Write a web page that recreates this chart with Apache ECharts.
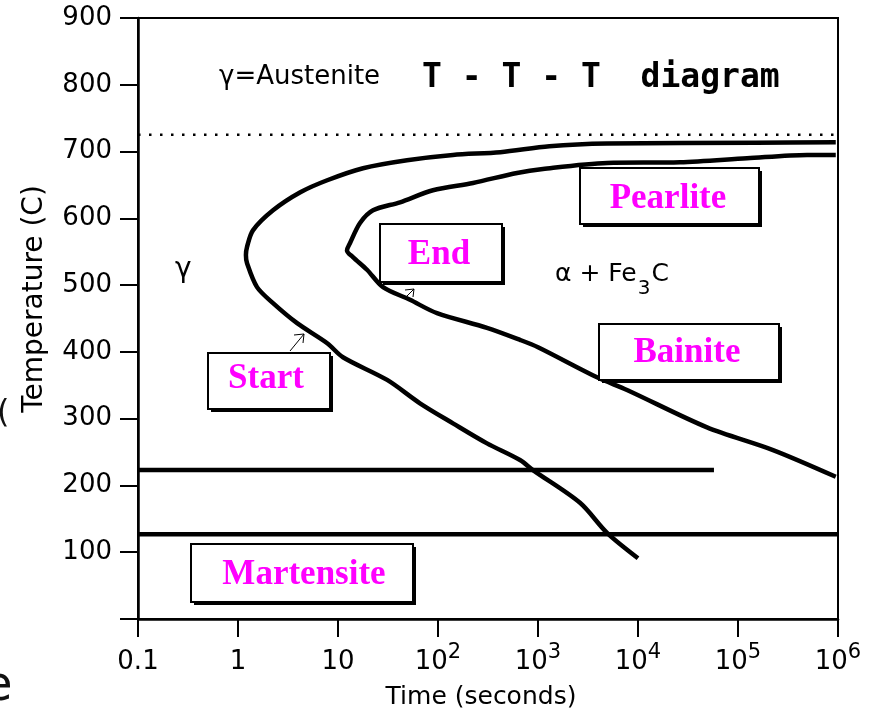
<!DOCTYPE html>
<html><head><meta charset="utf-8">
<script src="https://cdn.jsdelivr.net/npm/echarts@6.0.0/dist/echarts.min.js"></script>
<style>html,body{margin:0;padding:0;background:#fff}#c{width:879px;height:713px}</style>
</head><body><div id="c"></div>
<script>
// ---- data (time in seconds, temperature in C) ----
const startCurve = [[9.5e5,714],[1.5e5,713],[4.9e3,712],[1.3e3,708],[420,699],[141,695],[49,687],[17.8,675],[7.8,657],[4.2,639],[2.24,612],[1.41,582],[1.23,557],[1.2,545],[1.23,533],[1.55,497],[2.24,473],[3.9,443],[7.8,413],[11.2,392],[31,358],[66,323],[141,293],[309,263],[660,238],[890,223],[2630,174],[4900,129],[1e4,91]];
const endCurve = [[9.5e5,695],[4.9e5,695],[1.23e5,690],[2.63e4,684],[4.9e3,683],[1.12e3,674],[617,668],[224,653],[89,642],[41.7,624],[22.4,612],[16.6,593],[13.2,563],[12.3,552],[14.1,542],[19.5,523],[28.2,497],[52.5,478],[97.7,458],[309,436],[661,418],[1000,407],[3890,362],[7760,343],[4.9e4,287],[2.24e5,253],[9.5e5,213]];
const eutectoidLine = [[0.1,725],[1e6,725]];
const msLine = [[0.1,223],[5.75e4,223]];
const mfLine = [[0.1,127],[1e6,127]];
const xTickBase = ['0.1','1','10','10','10','10','10','10'];
const xTickSup = ['','','','2','3','4','5','6'];
const phaseLabels = ['Start','End','Pearlite','Bainite','Martensite'];

const chart = echarts.init(document.getElementById('c'), null, {renderer:'canvas'});
const SANS = "'DejaVu Sans', sans-serif";
const SERIF = "'Liberation Serif', 'DejaVu Serif', serif";
const measureCtx = document.createElement('canvas').getContext('2d');
function textWidth(s, font){ measureCtx.font = font; return measureCtx.measureText(s).width; }

function lineSeries(data, width, type, smooth) {
  return {type:'line', data:data, symbol:'none', smooth:smooth||false, silent:true,
    lineStyle:{color:'#000', width:width, type:type||'solid', join:'round', cap:'butt'}, z:3};
}
function txt(x,y,text,font,extra){
  return {type:'text', x:x, y:y, z:50,
    style:Object.assign({text:text, fill:'#000', font:font, align:'left', verticalAlign:'middle',
      textAlign:'left', textVerticalAlign:'middle'}, extra||{})};
}
function box(x,y,w,h,label,tx,ty){
  return [
    {type:'rect', z:60, shape:{x:x+3,y:y+3,width:w,height:h}, style:{fill:'#000'}},
    {type:'rect', z:61, shape:{x:x,y:y,width:w,height:h}, style:{fill:'#fff', stroke:'#000', lineWidth:2}},
    {type:'text', z:62, x:tx, y:ty, style:{text:label, fill:'#ff00ff', font:'bold 35px '+SERIF,
      align:'center', verticalAlign:'middle', textAlign:'center', textVerticalAlign:'middle'}}
  ];
}
function arrow(x1,y1,x2,y2,h1,h2){
  return [
    {type:'line', z:55, shape:{x1:x1,y1:y1,x2:x2,y2:y2}, style:{stroke:'#000', lineWidth:1}},
    {type:'line', z:55, shape:{x1:x2,y1:y2,x2:h1[0],y2:h1[1]}, style:{stroke:'#000', lineWidth:1}},
    {type:'line', z:55, shape:{x1:x2,y1:y2,x2:h2[0],y2:h2[1]}, style:{stroke:'#000', lineWidth:1}}
  ];
}

const phaseFont = '25px ' + SANS;
const subFont = '20px ' + SANS;
const p1 = 'α + Fe', p2 = '3', p3 = 'C';
const p1x = 555, p2x = p1x + textWidth(p1, phaseFont) + 1, p3x = p2x + textWidth(p2, subFont) + 1;

const graphics = [].concat(
  box(208,353,122,56,phaseLabels[0],266,379),
  box(380,224,122,58,phaseLabels[1],439,255),
  box(580,168,179,56,phaseLabels[2],668,199),
  box(599,324,180,56,phaseLabels[3],687,353),
  box(191,544,222,58,phaseLabels[4],304,575),
  arrow(290,351,304,334,[294,335],[303,343]),
  arrow(404,299,414,289,[405,290],[413,297]),
  [
    txt(219,77,'γ=Austenite','26px '+SANS),
    txt(422,78,'T - T - T  diagram','bold 33px '+"'DejaVu Sans Mono', monospace"),
    txt(175,270,'γ','28px '+SANS),
    txt(p1x,274,p1,phaseFont),
    txt(p2x,289,p2,subFont),
    txt(p3x,274,p3,phaseFont),
    {type:'text', z:50, x:35, y:299, rotation:Math.PI/2, style:{text:'Temperature (C)', fill:'#000',
      font:'28px '+SANS, align:'center', verticalAlign:'middle', textAlign:'center', textVerticalAlign:'middle'}},
    {type:'text', z:50, x:481, y:697, style:{text:'Time (seconds)', fill:'#000',
      font:'25px '+SANS, align:'center', verticalAlign:'middle', textAlign:'center', textVerticalAlign:'middle'}},
    {type:'text', z:50, x:-3, y:414, style:{text:'(', fill:'#111', font:'32px '+SANS,
      align:'left', verticalAlign:'middle', textAlign:'left', textVerticalAlign:'middle'}},
    {type:'text', z:50, x:-17, y:688, style:{text:'e', fill:'#111', font:'48px '+SANS,
      align:'left', verticalAlign:'middle', textAlign:'left', textVerticalAlign:'middle'}}
  ]
);

chart.setOption({
  animation:false,
  backgroundColor:'#fff',
  grid:{left:138, top:18, right:41, bottom:94, show:true, borderColor:'#000', borderWidth:2, backgroundColor:'transparent'},
  xAxis:{type:'log', logBase:10, min:0.1, max:1e6,
    axisLine:{show:true, onZero:false, lineStyle:{color:'#000', width:2.5}},
    axisTick:{show:true, inside:false, length:18, lineStyle:{color:'#000', width:2}},
    splitLine:{show:false}, minorTick:{show:false},
    axisLabel:{margin:23, color:'#000',
      formatter:function(v){
        const i = Math.round(Math.log10(v)) + 1;
        if (i < 0 || i >= xTickBase.length) return '';
        return xTickSup[i] ? '{n|'+xTickBase[i]+'}{p|'+xTickSup[i]+'}' : '{n|'+xTickBase[i]+'}';
      },
      rich:{n:{fontSize:26, fontFamily:SANS, color:'#000', lineHeight:40, verticalAlign:'middle'},
            p:{fontSize:21, fontFamily:SANS, color:'#000', lineHeight:14, verticalAlign:'top'}}}
  },
  yAxis:{type:'value', min:0, max:900, interval:100,
    axisLine:{show:true, lineStyle:{color:'#000', width:2.5}},
    axisTick:{show:true, inside:false, length:18, lineStyle:{color:'#000', width:2}},
    splitLine:{show:false},
    axisLabel:{margin:26, color:'#000', fontSize:26, fontFamily:SANS,
      formatter:function(v){ return v === 0 ? '' : String(v); }}
  },
  series:[
    lineSeries(startCurve, 4.5, 'solid', 0.3),
    lineSeries(endCurve, 4.5, 'solid', 0.3),
    lineSeries(eutectoidLine, 2.5, [2.5,8.5]),
    lineSeries(msLine, 4.5),
    lineSeries(mfLine, 4.5)
  ],
  graphic:{elements:graphics}
});
</script></body></html>
